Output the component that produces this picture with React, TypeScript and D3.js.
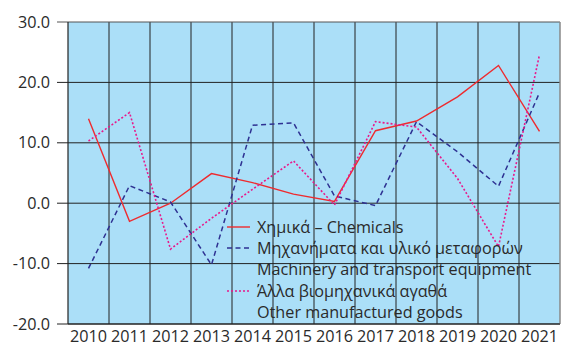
import React from "react";
import * as d3 from "d3";

const years = ["2010","2011","2012","2013","2014","2015","2016","2017","2018","2019","2020","2021"];
const chemicals = [14.0, -3.0, 0.0, 4.9, 3.4, 1.5, 0.3, 12.0, 13.6, 17.6, 22.8, 11.9];
const machinery = [-10.8, 2.9, 0.2, -10.2, 12.9, 13.3, 1.2, -0.4, 13.5, 8.5, 2.8, 18.3];
const otherGoods = [10.3, 15.0, -7.6, -2.5, 2.3, 7.0, -0.3, 13.5, 12.6, 4.1, -7.2, 24.6];
const yTicks = [-20, -10, 0, 10, 20, 30];

const seriesList = [
  { key: "chem", values: chemicals, color: "#ee2b2f", dash: "", width: 1.4, labels: ["Χημικά – Chemicals"] },
  { key: "mach", values: machinery, color: "#2e3192", dash: "5,3.5", width: 1.5, labels: ["Μηχανήματα και υλικό μεταφορών", "Machinery and transport equipment"] },
  { key: "other", values: otherGoods, color: "#e8198b", dash: "2,2", width: 1.6, labels: ["Άλλα βιομηχανικά αγαθά", "Other manufactured goods"] },
];

export default function App() {
  const W = 573, H = 345;
  const left = 68, right = 560, top = 22, bottom = 324;
  const x = d3.scaleBand<string>().domain(years).range([left, right]).padding(0);
  const y = d3.scaleLinear().domain([-20, 30]).range([bottom, top]);
  const cx = (i: number) => (x(years[i]) as number) + x.bandwidth() / 2;
  const line = (vals: number[]) =>
    d3.line<number>().x((_, i) => cx(i)).y((v) => y(v))(vals) as string;
  const font = "'Open Sans', sans-serif";
  const textColor = "#2a2a2a";
  const fs = 16.2;

  const legX = 227, legLineLen = 23, legTextX = 257;
  const rowY = [227, 248, 269.5, 291, 312.5];
  let r = 0;
  const legendItems: React.ReactNode[] = [];
  seriesList.forEach((s) => {
    const ly = rowY[r];
    legendItems.push(
      <line key={s.key + "l"} x1={legX} x2={legX + legLineLen} y1={ly} y2={ly}
        stroke={s.color} strokeWidth={s.width} strokeDasharray={s.dash || undefined} />
    );
    s.labels.forEach((lab, j) => {
      legendItems.push(
        <text key={s.key + "t" + j} x={legTextX} y={rowY[r] + 5.8} fontSize={fs}
          fill={textColor} fontFamily={font}>{lab}</text>
      );
      r++;
    });
  });

  return (
    <svg width={W} height={H} style={{ position: "absolute", left: 0, top: 0, background: "#fff" }}>
      <rect x={left} y={top} width={right - left} height={bottom - top} fill="#abdff8" />
      {years.map((yr, i) => i > 0 && (
        <line key={"v" + yr} x1={x(yr)} x2={x(yr)} y1={top} y2={bottom} stroke="#222" strokeWidth={1} />
      ))}
      {yTicks.map((t) => (
        <line key={"h" + t} x1={57} x2={right} y1={y(t)} y2={y(t)}
          stroke={t === 30 ? "#555" : "#222"} strokeWidth={1} />
      ))}
      <line x1={right} x2={right} y1={top} y2={bottom} stroke="#888" strokeWidth={1.5} />
      <line x1={left} x2={left} y1={top} y2={bottom} stroke="#222" strokeWidth={1.2} />
      <line x1={left} x2={right} y1={bottom} y2={bottom} stroke="#222" strokeWidth={1.2} />
      {yTicks.map((t) => (
        <text key={"yl" + t} x={50} y={y(t) + 5.5} textAnchor="end" fontSize={fs}
          fill={textColor} fontFamily={font}>{t.toFixed(1)}</text>
      ))}
      {years.map((yr, i) => (
        <text key={"xl" + yr} x={cx(i)} y={342} textAnchor="middle" fontSize={fs}
          fill={textColor} fontFamily={font}>{yr}</text>
      ))}
      {seriesList.map((s) => (
        <path key={s.key} d={line(s.values)} fill="none" stroke={s.color}
          strokeWidth={s.width} strokeDasharray={s.dash || undefined} />
      ))}
      {legendItems}
    </svg>
  );
}
